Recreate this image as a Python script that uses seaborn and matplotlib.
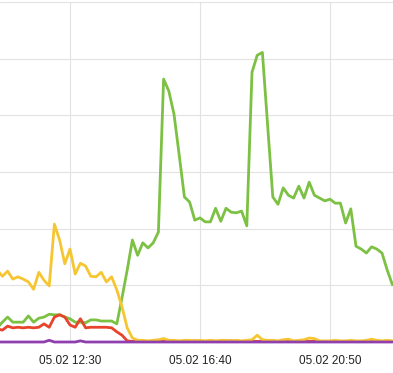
import pandas as pd
import matplotlib.pyplot as plt
import matplotlib.dates as mdates
import seaborn as sns

# samples every 10 minutes, 05.02 10:10 .. 22:50
times = pd.date_range('2024-02-05 10:10', '2024-02-05 22:50', freq='10min')

green = [2.5, 3.5, 4.4, 3.5, 3.5, 3.5, 4.6, 3.5, 4.2, 4.4, 4.9, 4.8, 4.8, 4.4,
         4.1, 3.5, 3.5, 3.4, 3.9, 3.9, 3.7, 3.7, 3.7, 3.2,
         7.8, 12.7, 18.0, 15.3, 17.5, 16.6, 17.5, 19.4,
         46.4, 44.3, 40.2, 33.0, 25.6, 24.7, 21.5, 21.9, 21.2, 21.2, 23.6, 21.3,
         23.6, 22.9, 22.8, 23.1, 20.5, 47.6, 50.6, 51.1, 38.3, 25.6,
         24.3, 27.2, 25.9, 25.4, 27.5, 25.4, 28.2, 25.9, 25.4, 24.9, 25.2,
         24.5, 24.5, 21.0, 23.5, 16.9, 16.4, 15.7, 16.8, 16.4, 15.7, 12.7, 10.1]

yellow = [12.7, 11.6, 12.5, 11.1, 11.5, 11.1, 10.6, 9.3, 12.3, 10.9, 9.9,
          20.8, 18.0, 13.8, 16.4, 12.0, 13.9, 13.4, 11.6, 11.5, 12.3, 10.6,
          11.5, 9.2, 6.2, 2.5, 0.7,
          0.3, 0.3, 0.2, 0.3, 0.4, 0.6, 0.3, 0.3,
          0.2, 0.3, 0.3, 0.2, 0.3, 0.2,
          0.3, 0.2, 0.3, 0.3, 0.2, 0.3,
          0.2, 0.3, 0.4, 1.2, 0.4, 0.3,
          0.3, 0.2, 0.4, 0.5, 0.2, 0.3,
          0.4, 0.7, 0.6, 0.2, 0.2, 0.2,
          0.3, 0.2, 0.2, 0.3, 0.2, 0.2,
          0.3, 0.5, 0.3, 0.2, 0.3, 0.2]

red = [2.3, 2.1, 2.8, 2.5, 2.6, 2.5, 2.6, 2.5, 2.6, 3.2, 2.6, 4.4, 4.8, 4.4,
       3.0, 2.6, 4.1, 2.5, 2.6, 2.6, 2.6, 2.6, 2.5, 1.8, 1.2, 0.2, 0.1,
       0.1, 0.1, 0.1, 0.1, 0.1, 0.1, 0.1, 0.1,
       0.1, 0.1, 0.1, 0.2, 0.1, 0.1,
       0.2, 0.1, 0.1, 0.2, 0.2, 0.1,
       0.1, 0.1, 0.1, 0.1, 0.1, 0.1,
       0.1, 0.1, 0.1, 0.1, 0.1, 0.1,
       0.1, 0.1, 0.1, 0.1, 0.1, 0.1,
       0.1, 0.1, 0.1, 0.1, 0.1, 0.1,
       0.1, 0.1, 0.1, 0.1, 0.1, 0.1]

purple = [0.0, 0.0, 0.0, 0.0, 0.0, 0.0, 0.0, 0.0, 0.0, 0.0, 0.3, 0.0, 0.0, 0.0,
          0.0, 0.0, 0.2, 0.0, 0.0, 0.0, 0.0, 0.0, 0.0, 0.0, 0.0, 0.0, 0.0,
          0.0, 0.0, 0.0, 0.0, 0.0, 0.0, 0.0, 0.0,
          0.0, 0.0, 0.0, 0.0, 0.0, 0.0,
          0.0, 0.0, 0.0, 0.0, 0.0, 0.0,
          0.0, 0.0, 0.0, 0.0, 0.0, 0.0,
          0.0, 0.0, 0.0, 0.0, 0.0, 0.0,
          0.0, 0.0, 0.0, 0.0, 0.0, 0.0,
          0.0, 0.0, 0.0, 0.0, 0.0, 0.0,
          0.0, 0.0, 0.0, 0.0, 0.0, 0.0]

tick_times = pd.to_datetime(['2024-02-05 12:30', '2024-02-05 16:40', '2024-02-05 20:50'])

df = pd.DataFrame({'time': times, 'green': green, 'red': red,
                   'yellow': yellow, 'purple': purple})
long_df = df.melt(id_vars='time', var_name='series', value_name='value')

sns.set_style('white')
plt.rcParams['font.family'] = ['Liberation Sans', 'DejaVu Sans']

fig = plt.figure(figsize=(3.93, 3.73), dpi=100)
ax = fig.add_axes([0, 1 - 342 / 373, 1, 340 / 373])

sns.lineplot(data=long_df, x='time', y='value', hue='series',
             hue_order=['green', 'red', 'yellow', 'purple'],
             palette={'green': '#7cc143', 'red': '#e8432b',
                      'yellow': '#f6c632', 'purple': '#8f3fae'},
             linewidth=2.0, legend=False, ax=ax)
# let the zero line show in full at the bottom edge
for line in ax.lines:
    line.set_clip_on(False)

ax.set_xlim(pd.Timestamp('2024-02-05 10:15:23'), pd.Timestamp('2024-02-05 22:51:09'))
ax.set_ylim(0, 60)
ax.set_yticks([0, 10, 20, 30, 40, 50, 60])
ax.set_yticklabels([])
ax.set_xticks(tick_times)
ax.xaxis.set_major_formatter(mdates.DateFormatter('%d.%m %H:%M'))
ax.tick_params(axis='both', length=0)
ax.tick_params(axis='x', pad=9, labelsize=8.5, colors='#222222')
ax.grid(True, color='#e2e2e2', linewidth=0.8)
ax.set_axisbelow(True)
ax.set_xlabel('')
ax.set_ylabel('')
for s in ax.spines.values():
    s.set_visible(False)

fig.savefig('out.png', dpi=100)
